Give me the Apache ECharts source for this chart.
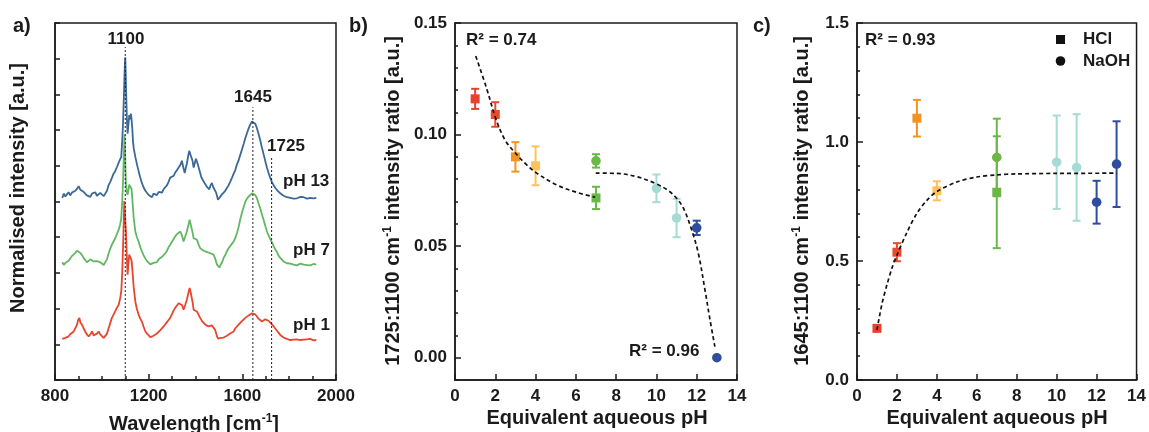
<!DOCTYPE html>
<html>
<head>
<meta charset="utf-8">
<script src="https://cdn.jsdelivr.net/npm/echarts@6/dist/echarts.min.js"></script>
<style>html,body{margin:0;padding:0;background:#fff;}#c{width:1149px;height:432px;}</style>
</head>
<body>
<div id="c"></div>
<script>
// ---------- Panel a: Raman spectra (wavenumber, offset normalised intensity) ----------
const spec_pH13 = [[831,5.10],[838,5.22],[844,5.14],[851,5.20],[858,5.26],[865,5.17],[872,5.25],[880,5.22],[887,5.30],[894,5.36],[901,5.43],[908,5.33],[915,5.36],[922,5.27],[929,5.22],[936,5.17],[944,5.20],[951,5.13],[958,5.22],[965,5.18],[972,5.26],[979,5.16],[986,5.14],[993,5.24],[1001,5.29],[1008,5.15],[1015,5.10],[1022,5.30],[1029,5.46],[1036,5.55],[1043,5.66],[1050,5.78],[1057,5.85],[1064,5.96],[1072,6.09],[1078,6.18],[1083,6.25],[1087,6.70],[1090,7.10],[1093,7.70],[1096,8.35],[1098,8.80],[1100,9.04],[1102,8.60],[1104,8.00],[1107,7.30],[1110,6.90],[1113,7.10],[1117,7.42],[1120,7.30],[1124,7.46],[1127,7.30],[1130,7.05],[1133,6.70],[1136,6.50],[1143,6.25],[1150,6.04],[1157,5.85],[1164,5.67],[1171,5.52],[1178,5.40],[1186,5.30],[1193,5.27],[1200,5.18],[1207,5.21],[1214,5.12],[1221,5.22],[1228,5.24],[1235,5.18],[1243,5.27],[1250,5.29],[1257,5.25],[1264,5.35],[1271,5.38],[1278,5.45],[1285,5.55],[1292,5.67],[1300,5.70],[1307,5.72],[1314,5.82],[1321,5.88],[1328,5.95],[1335,6.02],[1342,6.14],[1348,5.95],[1354,5.80],[1359,5.95],[1363,6.05],[1368,6.25],[1373,6.42],[1378,6.32],[1382,6.37],[1387,6.15],[1392,5.95],[1397,6.08],[1402,6.20],[1406,6.12],[1410,6.04],[1418,5.85],[1425,5.68],[1433,5.58],[1442,5.48],[1450,5.40],[1459,5.34],[1464,5.45],[1470,5.52],[1476,5.40],[1482,5.45],[1488,5.25],[1496,5.05],[1504,5.10],[1513,5.20],[1520,5.25],[1527,5.30],[1534,5.38],[1541,5.45],[1548,5.55],[1556,5.67],[1563,5.78],[1570,5.88],[1577,6.04],[1584,6.15],[1591,6.30],[1598,6.45],[1606,6.62],[1613,6.78],[1620,6.92],[1627,7.05],[1634,7.16],[1641,7.24],[1648,7.28],[1655,7.18],[1662,7.06],[1669,6.90],[1677,6.70],[1684,6.50],[1691,6.32],[1698,6.13],[1705,5.95],[1712,5.80],[1719,5.67],[1726,5.55],[1734,5.45],[1741,5.38],[1748,5.32],[1755,5.27],[1762,5.23],[1769,5.20],[1776,5.16],[1783,5.15],[1790,5.12],[1798,5.14],[1805,5.10],[1812,5.11],[1819,5.08],[1826,5.12],[1833,5.09],[1840,5.10],[1848,5.13],[1855,5.09],[1862,5.12],[1869,5.12],[1876,5.08],[1883,5.11],[1890,5.10],[1897,5.12],[1904,5.09],[1911,5.12],[1916,5.10]];
const spec_pH7 = [[831,3.30],[838,3.22],[844,3.28],[851,3.25],[858,3.34],[865,3.40],[872,3.47],[880,3.52],[887,3.56],[894,3.62],[901,3.65],[908,3.56],[915,3.50],[922,3.42],[929,3.36],[936,3.30],[944,3.32],[951,3.38],[958,3.42],[965,3.32],[972,3.27],[979,3.33],[986,3.38],[993,3.30],[1001,3.27],[1008,3.22],[1015,3.18],[1022,3.38],[1029,3.55],[1036,3.68],[1043,3.79],[1050,3.88],[1057,3.97],[1064,4.08],[1072,4.21],[1078,4.35],[1083,4.53],[1087,5.00],[1090,5.47],[1093,6.10],[1096,6.70],[1097,6.88],[1099,6.50],[1101,5.90],[1103,5.47],[1107,5.25],[1110,5.19],[1113,5.30],[1117,5.47],[1120,5.45],[1124,5.52],[1127,5.35],[1131,5.00],[1136,4.55],[1143,4.16],[1150,4.00],[1157,3.88],[1164,3.72],[1171,3.60],[1178,3.50],[1186,3.40],[1193,3.33],[1200,3.28],[1207,3.24],[1214,3.22],[1221,3.28],[1228,3.32],[1235,3.30],[1243,3.38],[1250,3.42],[1257,3.45],[1264,3.50],[1271,3.55],[1278,3.62],[1285,3.72],[1292,3.79],[1300,3.88],[1307,3.95],[1313,4.02],[1320,4.08],[1328,4.12],[1335,4.16],[1342,4.05],[1349,3.88],[1356,4.02],[1363,4.16],[1369,4.32],[1375,4.49],[1378,4.40],[1382,4.40],[1387,4.15],[1392,3.97],[1399,3.95],[1406,3.93],[1413,3.80],[1420,3.69],[1428,3.66],[1435,3.62],[1442,3.60],[1450,3.58],[1456,3.57],[1463,3.55],[1470,3.54],[1477,3.51],[1484,3.40],[1492,3.23],[1497,3.18],[1502,3.15],[1509,3.25],[1515,3.32],[1520,3.42],[1527,3.50],[1534,3.60],[1541,3.69],[1548,3.75],[1556,3.82],[1563,3.88],[1570,3.98],[1577,4.12],[1584,4.28],[1591,4.50],[1598,4.68],[1606,4.85],[1613,5.00],[1620,5.08],[1627,5.14],[1634,5.19],[1641,5.23],[1648,5.24],[1655,5.18],[1662,5.10],[1669,4.95],[1677,4.80],[1684,4.63],[1691,4.48],[1698,4.32],[1705,4.16],[1712,4.05],[1719,3.95],[1726,3.86],[1734,3.75],[1741,3.66],[1748,3.58],[1755,3.48],[1762,3.42],[1769,3.37],[1776,3.32],[1783,3.29],[1790,3.27],[1798,3.24],[1805,3.26],[1812,3.22],[1819,3.23],[1826,3.25],[1833,3.21],[1840,3.24],[1848,3.26],[1855,3.22],[1862,3.23],[1869,3.25],[1876,3.22],[1883,3.24],[1890,3.21],[1897,3.23],[1904,3.25],[1911,3.22],[1916,3.23]];
const spec_pH1 = [[831,1.15],[838,1.12],[844,1.18],[851,1.20],[858,1.22],[865,1.28],[872,1.32],[880,1.36],[887,1.45],[894,1.55],[899,1.68],[904,1.74],[908,1.62],[915,1.55],[922,1.45],[929,1.36],[936,1.28],[944,1.22],[951,1.28],[958,1.36],[965,1.25],[972,1.22],[979,1.30],[986,1.36],[993,1.28],[1001,1.26],[1008,1.18],[1015,1.13],[1022,1.30],[1029,1.45],[1036,1.60],[1043,1.74],[1050,1.83],[1057,1.92],[1064,2.02],[1072,2.11],[1078,2.28],[1083,2.48],[1087,3.00],[1090,3.61],[1093,4.30],[1096,5.01],[1098,4.80],[1100,4.50],[1103,4.16],[1107,3.40],[1110,2.95],[1113,3.20],[1117,3.51],[1120,3.50],[1124,3.56],[1127,3.35],[1131,3.05],[1136,2.60],[1143,2.20],[1150,1.98],[1157,1.83],[1164,1.72],[1171,1.64],[1178,1.50],[1186,1.36],[1193,1.30],[1200,1.25],[1207,1.20],[1214,1.18],[1221,1.24],[1228,1.26],[1235,1.30],[1243,1.35],[1250,1.40],[1257,1.45],[1264,1.50],[1271,1.55],[1278,1.62],[1285,1.68],[1292,1.74],[1300,1.85],[1307,1.95],[1313,2.02],[1320,2.08],[1328,2.15],[1335,2.20],[1342,2.10],[1349,1.97],[1356,2.10],[1363,2.25],[1369,2.42],[1375,2.58],[1378,2.50],[1382,2.48],[1387,2.20],[1392,1.97],[1399,1.95],[1406,1.92],[1413,1.83],[1420,1.74],[1428,1.65],[1435,1.60],[1442,1.55],[1450,1.52],[1456,1.50],[1463,1.50],[1470,1.53],[1477,1.55],[1484,1.40],[1492,1.22],[1497,1.16],[1502,1.13],[1509,1.18],[1515,1.20],[1520,1.19],[1527,1.22],[1534,1.24],[1541,1.26],[1548,1.30],[1556,1.34],[1563,1.36],[1570,1.45],[1577,1.50],[1584,1.55],[1591,1.59],[1598,1.65],[1606,1.70],[1613,1.74],[1620,1.78],[1627,1.81],[1634,1.83],[1641,1.87],[1648,1.88],[1655,1.84],[1662,1.78],[1669,1.72],[1677,1.68],[1684,1.64],[1691,1.67],[1698,1.70],[1705,1.69],[1712,1.66],[1719,1.64],[1726,1.56],[1734,1.50],[1741,1.45],[1748,1.38],[1755,1.32],[1762,1.26],[1769,1.22],[1776,1.19],[1783,1.17],[1790,1.15],[1798,1.14],[1805,1.12],[1812,1.14],[1819,1.13],[1826,1.11],[1833,1.14],[1840,1.15],[1848,1.12],[1855,1.15],[1862,1.13],[1869,1.11],[1876,1.14],[1883,1.12],[1890,1.15],[1897,1.13],[1904,1.11],[1911,1.13],[1916,1.12]];
const peakLines = [1100, 1645, 1725];
const peakLineTops = [9.33, 7.64, 6.27];

// ---------- Panels b & c: intensity ratios vs pH ----------
const pH_HCl = [1, 2, 3, 4, 7];
const pH_NaOH = [7, 10, 11, 12, 13];
const colors_HCl = ['#e8412b', '#e94b2c', '#f39322', '#fdc25c', '#6bb847'];
const colors_NaOH = ['#6bb847', '#a6dad4', '#a6dad4', '#2f4c9f', '#2f4c9f'];

const b_HCl = [0.116, 0.109, 0.090, 0.086, 0.0716];
const b_HCl_err = [0.0045, 0.0055, 0.0066, 0.0087, 0.005];
const b_NaOH = [0.0882, 0.0759, 0.0626, 0.0582, 0.0];
const b_NaOH_err = [0.003, 0.0062, 0.0086, 0.0032, 0];
const b_fit1_pH = [1.03, 1.57, 2.02, 2.48, 3.01, 3.56, 4.06, 5.05, 6.05, 6.96];
const b_fit1 = [0.1352, 0.1207, 0.1073, 0.0976, 0.0916, 0.0864, 0.0827, 0.0774, 0.0741, 0.0719];
const b_fit2_pH = [6.99, 8.03, 9.02, 9.93, 10.59, 11.0, 11.34, 11.75, 12.08, 12.41, 12.66, 12.9];
const b_fit2 = [0.0827, 0.0826, 0.0811, 0.0782, 0.0749, 0.0715, 0.0670, 0.0573, 0.0468, 0.0304, 0.0170, 0.0050];

const c_HCl = [0.217, 0.537, 1.100, 0.795, 0.789];
const c_HCl_err = [0.010, 0.038, 0.077, 0.040, 0.235];
const c_NaOH = [0.935, 0.915, 0.893, 0.747, 0.907];
const c_NaOH_err = [0.163, 0.196, 0.224, 0.090, 0.180];
const c_fit_pH = [1.0, 1.25, 1.5, 1.75, 2.0, 2.5, 3.0, 3.5, 4.0, 5.0, 6.0, 7.0, 8.0, 10.0, 13.0];
const c_fit = [0.21, 0.32, 0.40, 0.47, 0.525, 0.62, 0.70, 0.755, 0.792, 0.832, 0.853, 0.862, 0.866, 0.868, 0.869];

const xTicksA = [800, 1200, 1600, 2000];

// ---------- helpers ----------
const INK = '#1b1b1b';
const FONT = '"Liberation Sans", Arial, sans-serif';
const zip = (xs, ys, es) => xs.map((x, i) => es ? [x, ys[i], es[i]] : [x, ys[i]]);
const labelStyle = { fontSize: 17, fontWeight: 'bold', color: INK, fontFamily: FONT };

function errRender(colors, shape) {
  return function (params, api) {
    const x = api.value(0), y = api.value(1), e = api.value(2);
    const c = api.coord([x, y]);
    const col = colors[params.dataIndex];
    const kids = [];
    if (e > 0) {
      const t = api.coord([x, y + e]), b = api.coord([x, y - e]);
      const ls = { stroke: col, lineWidth: 2 };
      kids.push({ type: 'line', shape: { x1: c[0], y1: t[1], x2: c[0], y2: b[1] }, style: ls });
      kids.push({ type: 'line', shape: { x1: c[0] - 4, y1: t[1], x2: c[0] + 4, y2: t[1] }, style: ls });
      kids.push({ type: 'line', shape: { x1: c[0] - 4, y1: b[1], x2: c[0] + 4, y2: b[1] }, style: ls });
    }
    if (shape === 'square') {
      kids.push({ type: 'rect', shape: { x: c[0] - 4.5, y: c[1] - 4.5, width: 9, height: 9 }, style: { fill: col } });
    } else {
      kids.push({ type: 'circle', shape: { cx: c[0], cy: c[1], r: 4.8 }, style: { fill: col } });
    }
    return { type: 'group', children: kids };
  };
}

function xAxisCfg(gi, min, max, interval, opts) {
  return Object.assign({
    gridIndex: gi, type: 'value', min, max, interval,
    axisLine: { show: true, onZero: false, lineStyle: { color: INK, width: 1.5 } },
    axisTick: { show: true, inside: true, length: 6, lineStyle: { color: INK, width: 1.5 } },
    axisLabel: Object.assign({ margin: 8, formatter: v => String(v) }, labelStyle),
    splitLine: { show: false }
  }, opts || {});
}

const grids = [
  { left: 55, top: 23, width: 281, height: 357 },
  { left: 455, top: 23, width: 282, height: 357 },
  { left: 857, top: 23, width: 281, height: 357 }
].map(g => Object.assign(g, { show: true, borderColor: INK, borderWidth: 1.5, backgroundColor: 'transparent', containLabel: false }));

const specColors = { p13: '#3b6895', p7: '#63b662', p1: '#e8452e' };

const series = [
  { type: 'line', xAxisIndex: 0, yAxisIndex: 0, data: spec_pH13, showSymbol: false, lineStyle: { color: specColors.p13, width: 1.8 }, z: 3 },
  { type: 'line', xAxisIndex: 0, yAxisIndex: 0, data: spec_pH7, showSymbol: false, lineStyle: { color: specColors.p7, width: 1.8 }, z: 3 },
  { type: 'line', xAxisIndex: 0, yAxisIndex: 0, data: spec_pH1, showSymbol: false, lineStyle: { color: specColors.p1, width: 1.8 }, z: 3 }
];
peakLines.forEach((w, i) => {
  series.push({ type: 'line', xAxisIndex: 0, yAxisIndex: 0, data: [[w, 0], [w, peakLineTops[i]]], showSymbol: false,
    lineStyle: { color: '#222', width: 1, type: [2, 2] }, z: 4 });
});
// panel b
series.push({ type: 'custom', xAxisIndex: 1, yAxisIndex: 1, data: zip(pH_HCl, b_HCl, b_HCl_err), renderItem: errRender(colors_HCl, 'square'), z: 3 });
series.push({ type: 'custom', xAxisIndex: 1, yAxisIndex: 1, data: zip(pH_NaOH, b_NaOH, b_NaOH_err), renderItem: errRender(colors_NaOH, 'circle'), z: 3 });
series.push({ type: 'line', xAxisIndex: 1, yAxisIndex: 1, data: zip(b_fit1_pH, b_fit1), showSymbol: false, smooth: 0.35, lineStyle: { color: '#111', width: 1.7, type: [4, 3] }, z: 5 });
series.push({ type: 'line', xAxisIndex: 1, yAxisIndex: 1, data: zip(b_fit2_pH, b_fit2), showSymbol: false, smooth: 0.35, lineStyle: { color: '#111', width: 1.7, type: [4, 3] }, z: 5 });
// panel c
series.push({ type: 'custom', xAxisIndex: 2, yAxisIndex: 3, data: zip(pH_HCl, c_HCl, c_HCl_err), renderItem: errRender(colors_HCl, 'square'), z: 3 });
series.push({ type: 'custom', xAxisIndex: 2, yAxisIndex: 3, data: zip(pH_NaOH, c_NaOH, c_NaOH_err), renderItem: errRender(colors_NaOH, 'circle'), z: 3 });
series.push({ type: 'line', xAxisIndex: 2, yAxisIndex: 3, data: zip(c_fit_pH, c_fit), showSymbol: false, smooth: 0.3, lineStyle: { color: '#111', width: 1.7, type: [4, 3] }, z: 5 });

const isMult = (v, s) => Math.abs(v / s - Math.round(v / s)) < 1e-6;

const option = {
  animation: false,
  backgroundColor: '#fff',
  textStyle: { fontFamily: FONT },
  grid: grids,
  xAxis: [
    xAxisCfg(0, 800, 2000, 400, {
      minorTick: { show: true, splitNumber: 4, length: 4, lineStyle: { color: INK, width: 1.5 } },
      axisLabel: Object.assign({ margin: 8, customValues: xTicksA, formatter: v => String(v) }, labelStyle)
    }),
    xAxisCfg(1, 0, 14, 2),
    xAxisCfg(2, 0, 14, 2)
  ],
  yAxis: [
    { gridIndex: 0, type: 'value', min: 0, max: 10, interval: 1,
      axisLine: { show: true, lineStyle: { color: INK, width: 1.5 } },
      axisTick: { show: true, inside: true, length: 5, lineStyle: { color: INK, width: 1.5 } },
      axisLabel: { show: false }, splitLine: { show: false } },
    { gridIndex: 1, type: 'value', min: -0.01, max: 0.15, interval: 0.01,
      axisLine: { show: true, lineStyle: { color: INK, width: 1.5 } },
      axisTick: { show: true, inside: true, length: 3, lineStyle: { color: INK, width: 1.5 } },
      axisLabel: Object.assign({ margin: 8, formatter: v => (isMult(v, 0.05) ? v.toFixed(2) : '') }, labelStyle),
      splitLine: { show: false } },
    { gridIndex: 1, type: 'value', min: -0.01, max: 0.15, position: 'left',
      axisLine: { show: false },
      axisTick: { show: true, inside: true, length: 6, customValues: [0, 0.05, 0.10, 0.15], lineStyle: { color: INK, width: 1.5 } },
      axisLabel: { show: false }, splitLine: { show: false } },
    { gridIndex: 2, type: 'value', min: 0, max: 1.5, interval: 0.5,
      axisLine: { show: true, lineStyle: { color: INK, width: 1.5 } },
      axisTick: { show: true, inside: true, length: 6, lineStyle: { color: INK, width: 1.5 } },
      minorTick: { show: true, splitNumber: 5, length: 3, lineStyle: { color: INK, width: 1.5 } },
      axisLabel: Object.assign({ margin: 8, formatter: v => v.toFixed(1) }, labelStyle),
      splitLine: { show: false } }
  ],
  series: series,
  graphic: []
};

// text annotations
function txt(x, y, text, o) {
  return Object.assign({ type: 'text', x, y, silent: true, z: 100,
    style: Object.assign({ text, fill: INK, fontSize: 17, fontWeight: 'bold', fontFamily: FONT, align: 'left', verticalAlign: 'middle' }, (o && o.style) || {}) },
    o && o.rotation ? { rotation: o.rotation } : {});
}
const supRich = { sup: { fontSize: 12, fontWeight: 'bold', fontFamily: FONT, fill: INK, verticalAlign: 'top', lineHeight: 22 }, n: { fontSize: 20, fontWeight: 'bold', fontFamily: FONT, fill: INK, lineHeight: 22 } };
const G = option.graphic;
G.push(txt(13, 26, 'a)', { style: { fontSize: 20 } }));
G.push(txt(349, 26, 'b)', { style: { fontSize: 20 } }));
G.push(txt(753, 26, 'c)', { style: { fontSize: 20 } }));
G.push(txt(126, 39, '1100', { style: { align: 'center' } }));
G.push(txt(253, 97, '1645', { style: { align: 'center' } }));
G.push(txt(286, 146, '1725', { style: { align: 'center' } }));
G.push(txt(283, 181, 'pH 13'));
G.push(txt(293, 250, 'pH 7'));
G.push(txt(293, 325, 'pH 1'));
G.push(txt(466, 40, 'R² = 0.74'));
G.push(txt(629, 351, 'R² = 0.96'));
G.push(txt(865, 40, 'R² = 0.93'));
G.push({ type: 'rect', shape: { x: 1056, y: 35, width: 9, height: 9 }, style: { fill: '#111' }, z: 100 });
G.push({ type: 'circle', shape: { cx: 1060.5, cy: 61, r: 4.8 }, style: { fill: '#111' }, z: 100 });
G.push(txt(1083, 39, 'HCl'));
G.push(txt(1083, 61, 'NaOH'));
// axis titles
G.push(txt(18, 188, '{n|Normalised intensity [a.u.]}', { rotation: Math.PI / 2, style: { align: 'center', rich: supRich } }));
G.push(txt(194, 424, '{n|Wavelength [cm}{sup|-1}{n|]}', { style: { align: 'center', rich: supRich } }));
G.push(txt(393, 201, '{n|1725:1100 cm}{sup|-1}{n| intensity ratio [a.u.]}', { rotation: Math.PI / 2, style: { align: 'center', rich: supRich } }));
G.push(txt(597, 418, '{n|Equivalent aqueous pH}', { style: { align: 'center', rich: supRich } }));
G.push(txt(802, 201, '{n|1645:1100 cm}{sup|-1}{n| intensity ratio [a.u.]}', { rotation: Math.PI / 2, style: { align: 'center', rich: supRich } }));
G.push(txt(997, 418, '{n|Equivalent aqueous pH}', { style: { align: 'center', rich: supRich } }));

const chart = echarts.init(document.getElementById('c'), null, { renderer: 'canvas' });
chart.setOption(option);
</script>
</body>
</html>
